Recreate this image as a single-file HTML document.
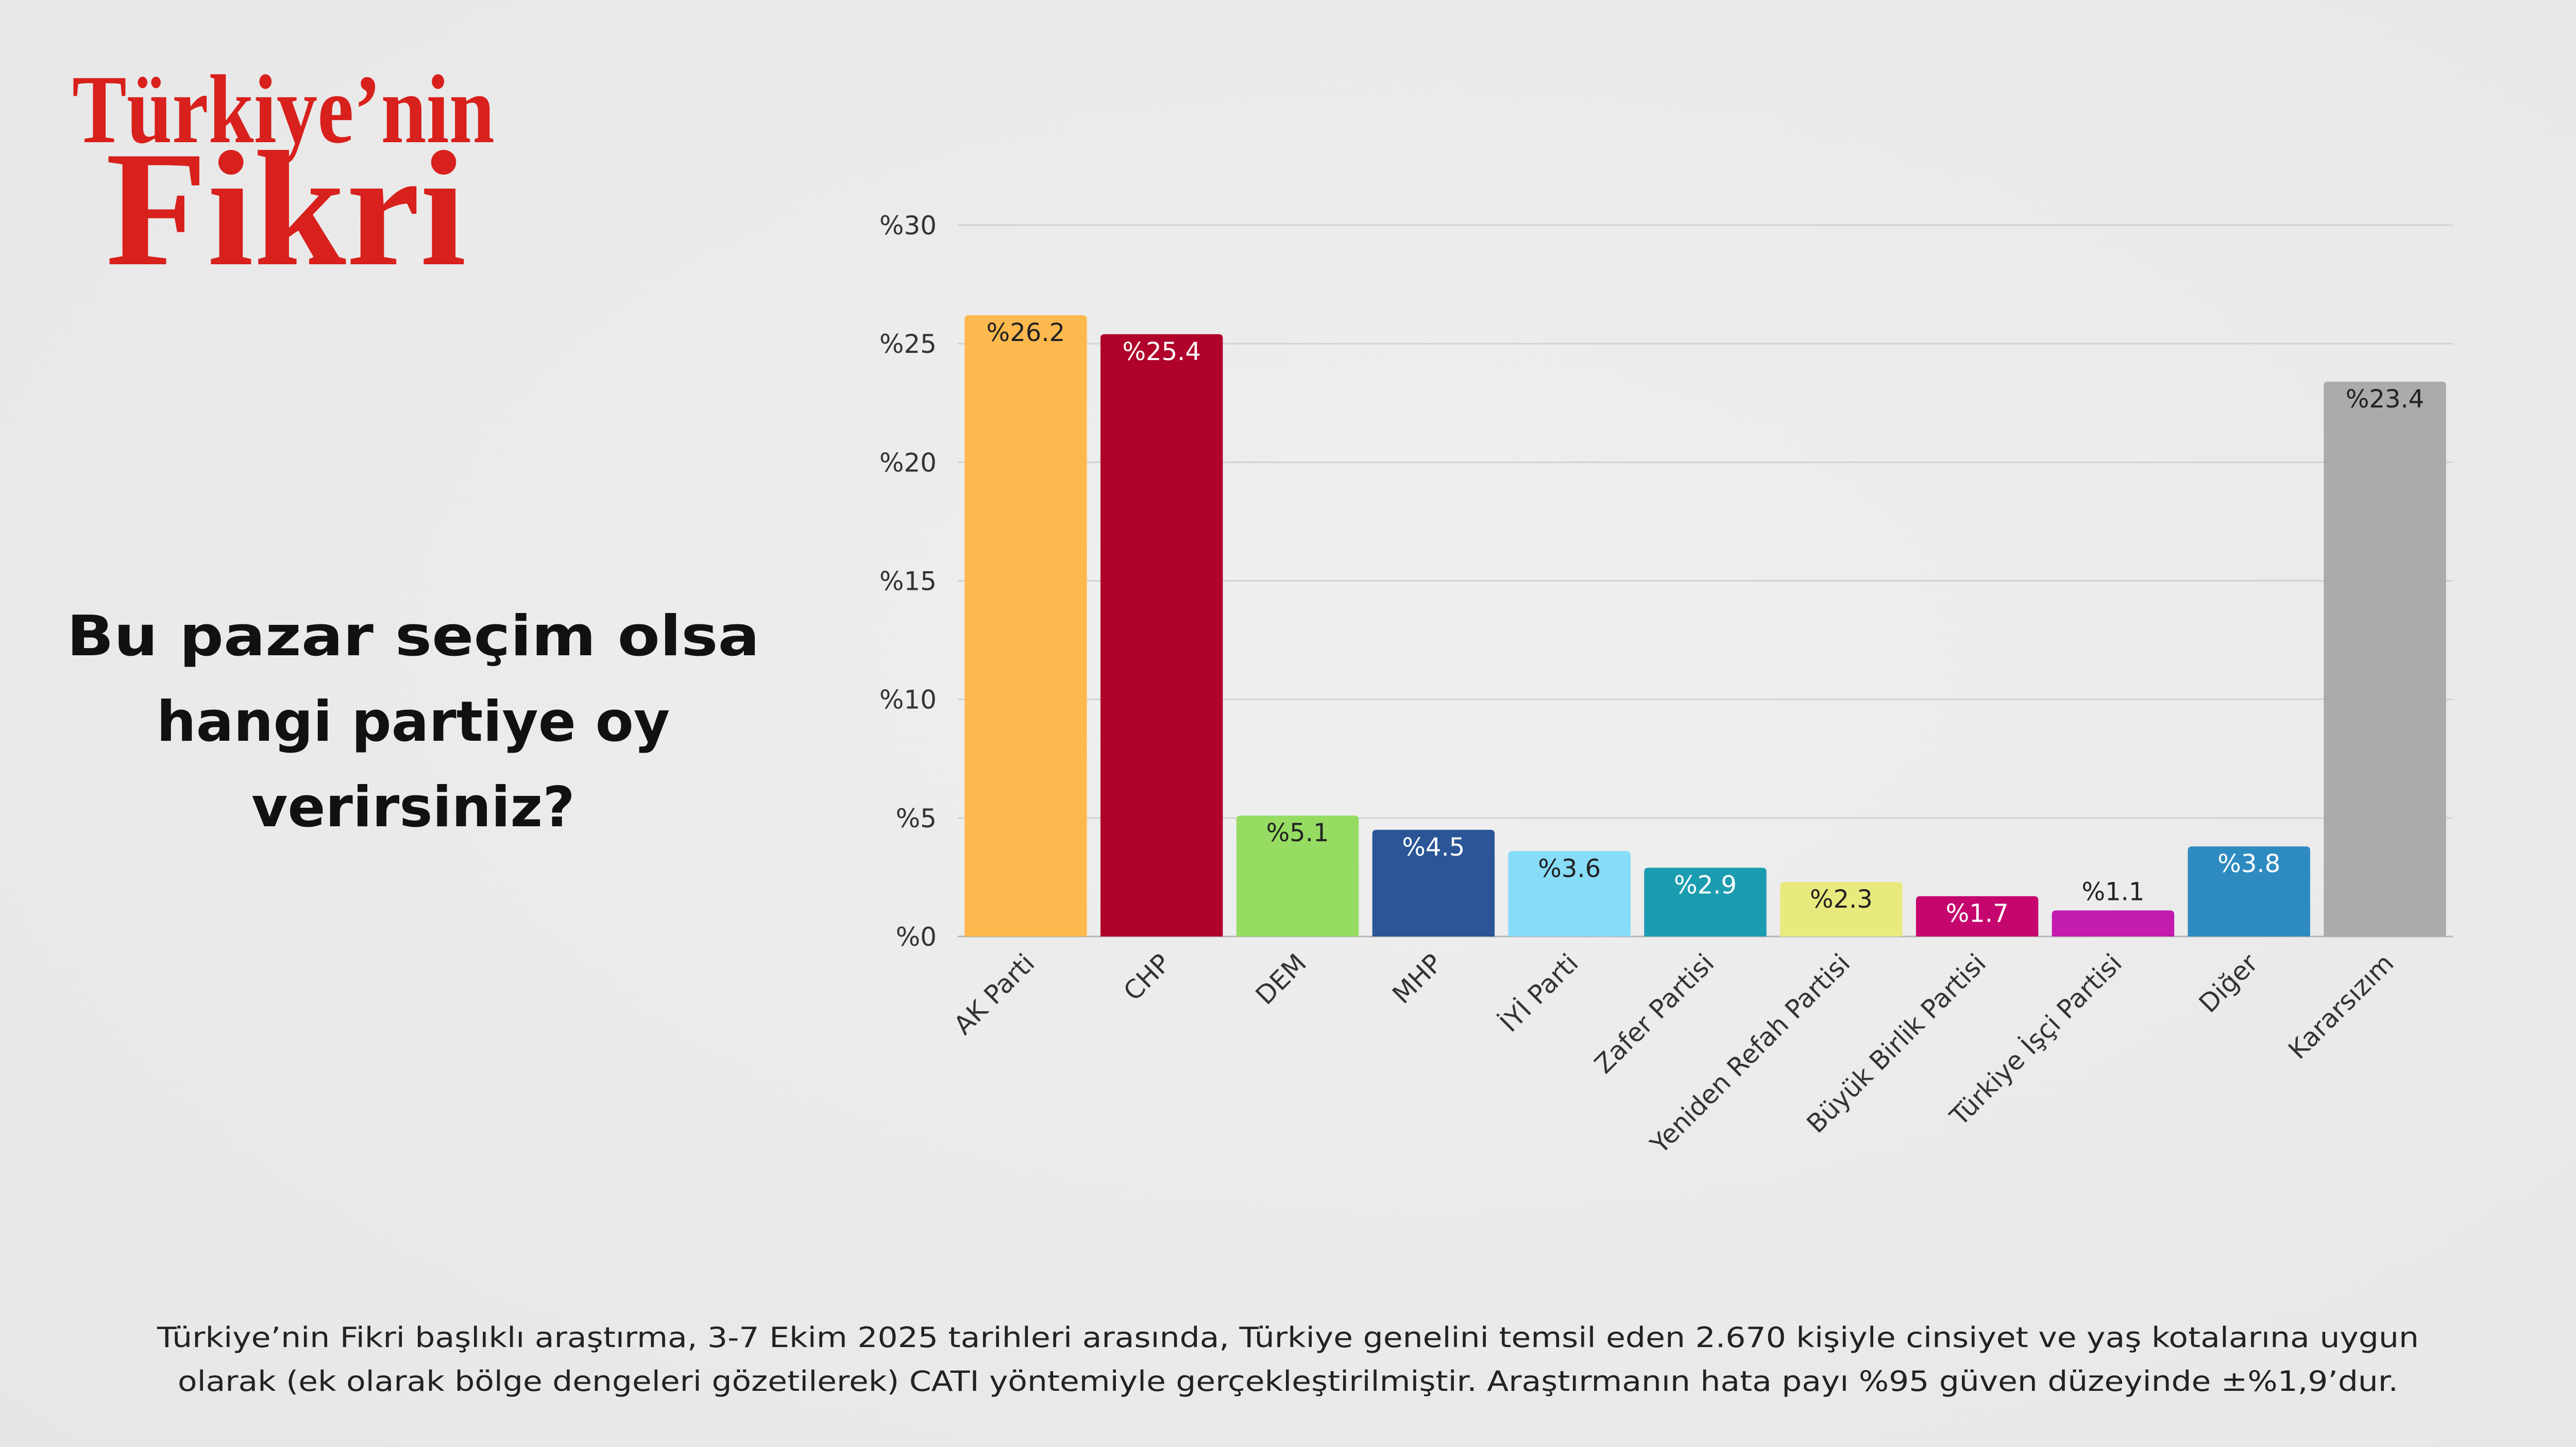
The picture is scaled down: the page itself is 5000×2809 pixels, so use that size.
<!DOCTYPE html>
<html><head><meta charset="utf-8"><style>
html,body{margin:0;padding:0;background:#ebebeb;}
svg{display:block;}
text{font-family:"DejaVu Sans","Liberation Sans",sans-serif;}
</style></head><body>
<svg id="chart" width="5000" height="2809" viewBox="0 0 5000 2809" xmlns="http://www.w3.org/2000/svg">
<defs>
<radialGradient id="bg" cx="0.55" cy="0.45" r="0.8">
<stop offset="0" stop-color="#efefef"/><stop offset="1" stop-color="#e6e6e6"/>
</radialGradient>
</defs>
<rect x="0" y="0" width="5000" height="2809" fill="url(#bg)"/>
<g fill="#d8201c" font-weight="bold">
<text x="140" y="276" font-size="190" textLength="820" lengthAdjust="spacingAndGlyphs" style="font-family:'Liberation Serif',serif">Türkiye’nin</text>
<text x="205" y="513" font-size="320" textLength="700" lengthAdjust="spacingAndGlyphs" style="font-family:'Liberation Serif',serif">Fikri</text>
</g>
<g font-size="108" font-weight="bold" fill="#111" text-anchor="middle">
<text x="802" y="1272" textLength="1345" lengthAdjust="spacingAndGlyphs">Bu pazar seçim olsa</text>
<text x="802" y="1438">hangi partiye oy</text>
<text x="802" y="1604">verirsiniz?</text>
</g>
<g id="grid"></g>
<g id="yticks"></g>
<g id="bars"></g>
<g id="xlabels"></g>
<g font-size="54" fill="#222" text-anchor="middle">
<text x="2500" y="2615" textLength="4390" lengthAdjust="spacingAndGlyphs">Türkiye’nin Fikri başlıklı araştırma, 3-7 Ekim 2025 tarihleri arasında, Türkiye genelini temsil eden 2.670 kişiyle cinsiyet ve yaş kotalarına uygun</text>
<text x="2500" y="2700" textLength="4310" lengthAdjust="spacingAndGlyphs">olarak (ek olarak bölge dengeleri gözetilerek) CATI yöntemiyle gerçekleştirilmiştir. Araştırmanın hata payı %95 güven düzeyinde ±%1,9’dur.</text>
</g>
</svg>
<script>
const categories = ["AK Parti","CHP","DEM","MHP","İYİ Parti","Zafer Partisi","Yeniden Refah Partisi","Büyük Birlik Partisi","Türkiye İşçi Partisi","Diğer","Kararsızım"];
const values = [26.2,25.4,5.1,4.5,3.6,2.9,2.3,1.7,1.1,3.8,23.4];
const valueLabels = ["%26.2","%25.4","%5.1","%4.5","%3.6","%2.9","%2.3","%1.7","%1.1","%3.8","%23.4"];
const yTicks = [0,5,10,15,20,25,30];
const yTickLabels = ["%0","%5","%10","%15","%20","%25","%30"];
const colors = ["#fdb94e","#b0022a","#96dc62","#2a5597","#87dcf8","#1c9cb0","#e9ea7e","#c6066f","#c21bae","#2e8bc0","#ababab"];
const darkText = [true,false,true,false,true,false,true,false,true,false,true];

const NS="http://www.w3.org/2000/svg";
const x0=1859, x1=4761, yBase=1818, yTop=437, yMax=30;
const step=(x1-x0)/categories.length, bw=step*0.9;
const y=v=>yBase-(v/yMax)*(yBase-yTop);
const xc=i=>x0+step*(i+0.5);
function mk(tag,attrs,parent){const e=document.createElementNS(NS,tag);for(const k in attrs)e.setAttribute(k,attrs[k]);parent.appendChild(e);return e;}
const grid=document.getElementById('grid'),yt=document.getElementById('yticks'),bars=document.getElementById('bars'),xl=document.getElementById('xlabels');
yTicks.forEach((t,i)=>{
  const l=mk('line',{x1:x0,x2:x1,y1:y(t),y2:y(t),stroke:t===0?'#b5b5b5':'#d2d2d2','stroke-width':3},grid);
  
  
  const tx=mk('text',{x:1818,y:y(t)+18,'font-size':50,fill:'#333','text-anchor':'end'},yt);
  tx.textContent=yTickLabels[i];
  
  
});
values.forEach((v,i)=>{
  const top=y(v),bx=xc(i)-bw/2;
  const r=mk('path',{d:`M${bx},${yBase} L${bx},${top+8} Q${bx},${top} ${bx+8},${top} L${bx+bw-8},${top} Q${bx+bw},${top} ${bx+bw},${top+8} L${bx+bw},${yBase} Z`,fill:colors[i]},bars);
  
  
  const above=v<1.5;
  const t=mk('text',{x:xc(i),y:above?top-20:top+50,'font-size':48,'text-anchor':'middle',fill:(above||darkText[i])?'#222':'#fff'},bars);
  t.textContent=valueLabels[i];
  
  
  const c=mk('text',{x:xc(i)+20,y:yBase+55,'font-size':50,fill:'#333','text-anchor':'end',transform:`rotate(-45 ${xc(i)+20} ${yBase+55})`},xl);
  c.textContent=categories[i];
  
  
});
</script>
</body></html>
